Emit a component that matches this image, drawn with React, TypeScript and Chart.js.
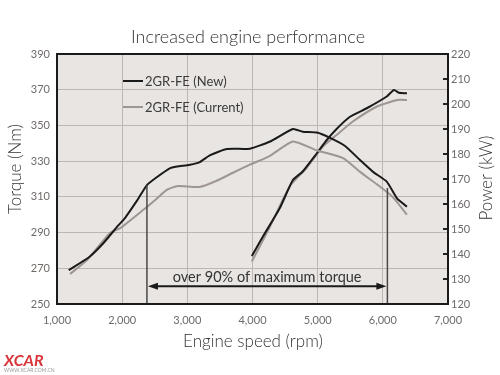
import React, { useEffect, useRef } from "react";
import { Chart, registerables } from "chart.js";

Chart.register(...registerables);

// ---- Data ----
const torqueNewRpm = [1180, 1500, 1710, 1940, 2040, 2230, 2380, 2530, 2730, 2840, 3040, 3190, 3350, 3610, 3960, 4270, 4620, 4770, 4990, 5190, 5420, 5650, 5850, 6060, 6220, 6370];
const torqueNew = [269, 276.5, 284, 294, 298, 308, 316.6, 321, 326, 327, 328, 329.5, 333.4, 336.8, 337, 341, 348, 346.5, 346, 343, 338.5, 330.6, 324, 318.5, 309, 304.5];

const torqueCurRpm = [1200, 1460, 1810, 1970, 2320, 2530, 2690, 2840, 3190, 3450, 3700, 3960, 4270, 4620, 4990, 5390, 5650, 5910, 6150, 6370];
const torqueCur = [266.8, 274.6, 289.7, 292.5, 302.6, 309, 314, 316, 315.5, 319, 323.5, 328, 333, 341, 336, 331.7, 324, 317, 310, 300];

const powerNewRpm = [3990, 4160, 4420, 4620, 4770, 4990, 5140, 5290, 5490, 5760, 6060, 6170, 6250, 6370];
const powerNew = [139.2, 147, 158.4, 169.6, 173, 180.4, 185.6, 190, 194.8, 198.4, 203, 205.6, 204.5, 204.3];

const powerCurRpm = [3990, 4270, 4570, 4830, 5080, 5290, 5540, 5910, 6220, 6370];
const powerCur = [137, 151, 167, 174.4, 183, 187.6, 193, 199, 201.6, 201.6];

const xTicks = [1000, 2000, 3000, 4000, 5000, 6000, 7000];
const torqueTicks = [250, 270, 290, 310, 330, 350, 370, 390];
const powerTicks = [120, 130, 140, 150, 160, 170, 180, 190, 200, 210, 220];

// annotation: range of 90% max torque
const rangeRpm = [2380, 6070];
const rangeTorqueTop = [316.6, 315];
const arrowTorque = 260;
const arrowLabelTorque = 265;

const TITLE = "Increased engine performance";
const X_TITLE = "Engine speed (rpm)";
const Y_TITLE = "Torque (Nm)";
const Y2_TITLE = "Power (kW)";
const LEGEND_NEW = "2GR-FE (New)";
const LEGEND_CUR = "2GR-FE (Current)";
const RANGE_LABEL = "over 90% of maximum torque";

const BLACK = "#1b1a1a";
const GRAY = "#9d9693";
const FONT = 'Lato, "Open Sans", "DejaVu Sans", sans-serif';

const zip = (xs: number[], ys: number[]) => xs.map((x, i) => ({ x, y: ys[i] }));

const decorPlugin = {
  id: "decor",
  beforeDraw(chart: any) {
    const { ctx, chartArea: a } = chart;
    ctx.save();
    ctx.fillStyle = "#ffffff";
    ctx.fillRect(0, 0, chart.width, chart.height);
    ctx.fillStyle = "#e9e5e2";
    ctx.fillRect(a.left, a.top, a.right - a.left, a.bottom - a.top);
    ctx.restore();
  },
  afterDatasetsDraw(chart: any) {
    const { ctx, chartArea: a, scales } = chart;
    const xs = scales.x, ys = scales.y, y2 = scales.y2;
    ctx.save();
    // vertical range lines
    ctx.strokeStyle = "#4a4746";
    ctx.lineWidth = 1.5;
    rangeRpm.forEach((r, i) => {
      const px = xs.getPixelForValue(r);
      ctx.beginPath();
      ctx.moveTo(px, a.bottom);
      ctx.lineTo(px, ys.getPixelForValue(rangeTorqueTop[i]));
      ctx.stroke();
    });
    // arrow
    const xl = xs.getPixelForValue(rangeRpm[0]) + 1;
    const xr = xs.getPixelForValue(rangeRpm[1]) - 1;
    const ay = ys.getPixelForValue(arrowTorque);
    ctx.strokeStyle = BLACK;
    ctx.fillStyle = BLACK;
    ctx.lineWidth = 2;
    ctx.beginPath();
    ctx.moveTo(xl + 8, ay);
    ctx.lineTo(xr - 8, ay);
    ctx.stroke();
    ctx.beginPath();
    ctx.moveTo(xl, ay);
    ctx.lineTo(xl + 10, ay - 3.5);
    ctx.lineTo(xl + 10, ay + 3.5);
    ctx.closePath();
    ctx.fill();
    ctx.beginPath();
    ctx.moveTo(xr, ay);
    ctx.lineTo(xr - 10, ay - 3.5);
    ctx.lineTo(xr - 10, ay + 3.5);
    ctx.closePath();
    ctx.fill();
    // range label
    ctx.font = `14.5px ${FONT}`;
    ctx.fillStyle = "#333";
    ctx.textAlign = "center";
    ctx.textBaseline = "middle";
    ctx.fillText(RANGE_LABEL, (xl + xr) / 2, ys.getPixelForValue(arrowLabelTorque));
    // right tick marks inside plot
    ctx.strokeStyle = "#222";
    ctx.lineWidth = 2;
    powerTicks.slice(1, -1).forEach((v) => {
      const py = y2.getPixelForValue(v);
      ctx.beginPath();
      ctx.moveTo(a.right - 5, py);
      ctx.lineTo(a.right - 1, py);
      ctx.stroke();
    });
    // border
    ctx.strokeStyle = "#1a1a1a";
    ctx.lineWidth = 2;
    ctx.strokeRect(a.left, a.top, a.right - a.left, a.bottom - a.top);
    // legend
    ctx.font = `13px ${FONT}`;
    ctx.textAlign = "left";
    ctx.textBaseline = "middle";
    const items: [string, string, number][] = [
      [LEGEND_NEW, BLACK, 81],
      [LEGEND_CUR, GRAY, 107],
    ];
    items.forEach(([t, c, y]) => {
      ctx.strokeStyle = c;
      ctx.lineWidth = 2;
      ctx.beginPath();
      ctx.moveTo(123, y);
      ctx.lineTo(143, y);
      ctx.stroke();
      ctx.fillStyle = "#3a3a3a";
      ctx.fillText(t, 145, y + 1);
    });
    ctx.restore();
  },
  afterDraw(chart: any) {
    const { ctx } = chart;
    ctx.save();
    ctx.fillStyle = "#333";
    ctx.textAlign = "center";
    ctx.textBaseline = "middle";
    ctx.font = `300 18px ${FONT}`;
    ctx.fillText(TITLE, 248, 37);
    ctx.font = `300 17px ${FONT}`;
    ctx.fillText(X_TITLE, 253, 342);
    ctx.save();
    ctx.translate(16, 169);
    ctx.rotate(-Math.PI / 2);
    ctx.fillText(Y_TITLE, 0, 0);
    ctx.restore();
    ctx.save();
    ctx.translate(487, 178);
    ctx.rotate(-Math.PI / 2);
    ctx.fillText(Y2_TITLE, 0, 0);
    ctx.restore();
    // watermark
    ctx.textAlign = "left";
    ctx.textBaseline = "alphabetic";
    ctx.fillStyle = "#d9343a";
    ctx.font = `italic bold 16px ${FONT}`;
    ctx.fillText("XCAR", 4, 366);
    ctx.fillStyle = "#999";
    ctx.font = `5px ${FONT}`;
    ctx.fillText("WWW.XCAR.COM.CN", 4, 372);
    ctx.restore();
  },
};

export default function App() {
  const ref = useRef<HTMLCanvasElement | null>(null);
  useEffect(() => {
    document.body.style.margin = "0";
    const canvas = ref.current;
    if (!canvas) return;
    const common = { borderWidth: 2, pointRadius: 0, tension: 0.18, fill: false };
    const chart = new Chart(canvas, {
      type: "line",
      data: {
        datasets: [
          { label: LEGEND_NEW, data: zip(torqueNewRpm, torqueNew), yAxisID: "y", borderColor: BLACK, ...common },
          { label: LEGEND_CUR, data: zip(torqueCurRpm, torqueCur), yAxisID: "y", borderColor: GRAY, ...common },
          { label: LEGEND_NEW + " power", data: zip(powerNewRpm, powerNew), yAxisID: "y2", borderColor: BLACK, ...common },
          { label: LEGEND_CUR + " power", data: zip(powerCurRpm, powerCur), yAxisID: "y2", borderColor: GRAY, ...common },
        ],
      },
      options: {
        animation: false,
        responsive: false,
        maintainAspectRatio: false,
        devicePixelRatio: 1,
        layout: { padding: { top: 54, left: 0, right: 0, bottom: 0 } },
        plugins: { legend: { display: false }, tooltip: { enabled: false }, title: { display: false } },
        scales: {
          x: {
            type: "linear",
            min: xTicks[0],
            max: xTicks[xTicks.length - 1],
            afterBuildTicks: (s: any) => { s.ticks = xTicks.map((v) => ({ value: v })); },
            afterFit: (s: any) => { s.height = 71; },
            ticks: {
              color: "#6e6a68",
              font: { size: 11, family: FONT },
              padding: 10,
              maxRotation: 0,
              callback: (v: any) => Number(v).toLocaleString("en-US"),
            },
            grid: {
              drawTicks: false,
              color: (c: any) => (c.tick && (c.tick.value === xTicks[0] || c.tick.value === xTicks[xTicks.length - 1]) ? "rgba(0,0,0,0)" : "#bcb7b3"),
              lineWidth: 1,
            },
            border: { display: false },
          },
          y: {
            type: "linear",
            position: "left",
            min: torqueTicks[0],
            max: torqueTicks[torqueTicks.length - 1],
            afterBuildTicks: (s: any) => { s.ticks = torqueTicks.map((v) => ({ value: v })); },
            afterFit: (s: any) => { s.width = 57; },
            ticks: { color: "#6e6a68", font: { size: 11, family: FONT }, padding: 7 },
            grid: {
              drawTicks: false,
              color: (c: any) => (c.tick && (c.tick.value === torqueTicks[0] || c.tick.value === torqueTicks[torqueTicks.length - 1]) ? "rgba(0,0,0,0)" : "#bcb7b3"),
              lineWidth: 1,
            },
            border: { display: false },
          },
          y2: {
            type: "linear",
            position: "right",
            min: powerTicks[0],
            max: powerTicks[powerTicks.length - 1],
            afterBuildTicks: (s: any) => { s.ticks = powerTicks.map((v) => ({ value: v })); },
            afterFit: (s: any) => { s.width = 52; },
            ticks: { color: "#6e6a68", font: { size: 11, family: FONT }, padding: 3 },
            grid: { drawOnChartArea: false, drawTicks: false },
            border: { display: false },
          },
        },
      } as any,
      plugins: [decorPlugin],
    });
    return () => chart.destroy();
  }, []);
  return (
    <div style={{ position: "fixed", left: 0, top: 0, width: 500, height: 375, background: "#fff" }}>
      <canvas ref={ref} width={500} height={375} style={{ width: 500, height: 375, display: "block" }} />
    </div>
  );
}
